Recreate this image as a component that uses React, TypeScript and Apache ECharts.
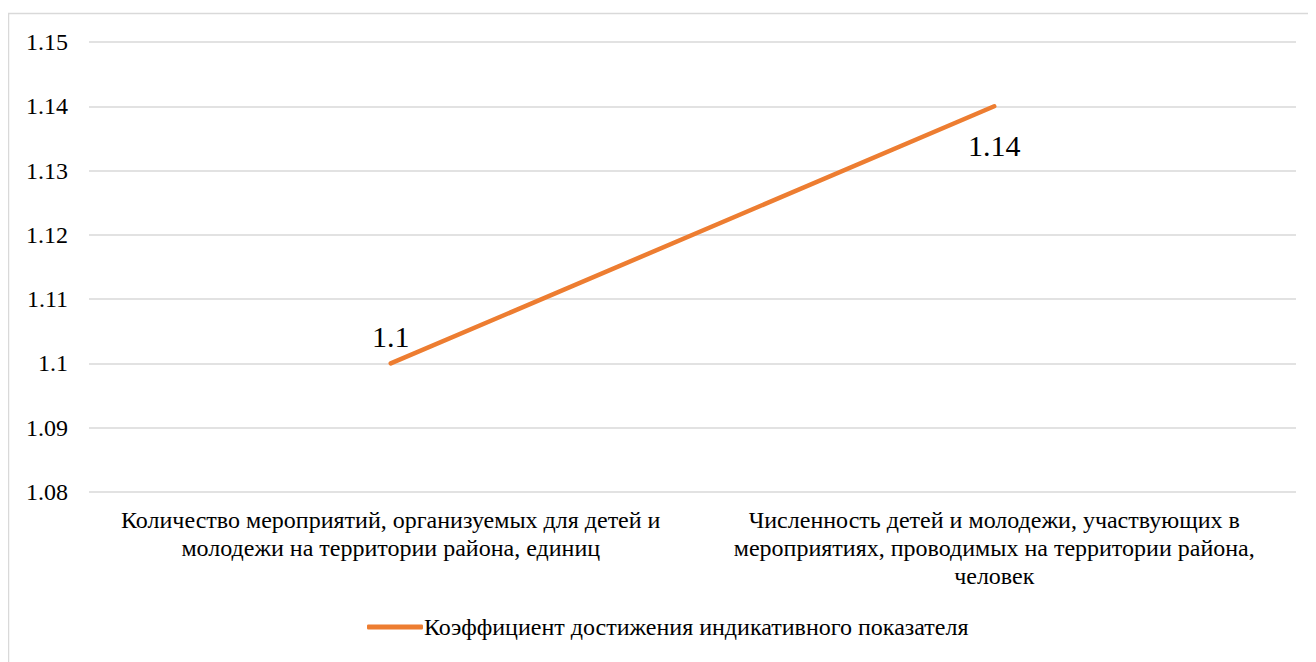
import React, { useEffect, useRef } from "react";
import * as echarts from "echarts";

const categories = [
  "Количество мероприятий, организуемых для детей и\nмолодежи на территории района, единиц",
  "Численность детей и молодежи, участвующих в\nмероприятиях, проводимых на территории района,\nчеловек",
];
const seriesName = "Коэффициент достижения индикативного показателя";
const values = [1.1, 1.14];
const labelPositions = ["top", "bottom"];
const labelDistances = [12, 24];

export default function App() {
  const ref = useRef<HTMLDivElement>(null);
  useEffect(() => {
    if (!ref.current) return;
    const chart = echarts.init(ref.current, null, { renderer: "svg" });
    const font = "Liberation Serif";
    chart.setOption({
      animation: false,
      textStyle: { fontFamily: font },
      graphic: [
        {
          type: "rect",
          shape: { x: 0.5, y: 5.5, width: 1400, height: 800 },
          style: { fill: "none", stroke: "#d9d9d9", lineWidth: 1.5 },
          silent: true,
        },
      ],
      grid: { left: 81, right: 20, top: 34, bottom: 170, containLabel: false },
      xAxis: {
        type: "category",
        data: categories,
        axisLine: { show: false },
        axisTick: { show: false },
        axisLabel: {
          color: "#000",
          fontFamily: font,
          fontSize: 24,
          lineHeight: 28,
          margin: 14,
          interval: 0,
        },
      },
      yAxis: {
        type: "value",
        min: 1.08,
        max: 1.15,
        interval: 0.01,
        axisLine: { show: false },
        axisTick: { show: false },
        splitLine: { lineStyle: { color: "#d9d9d9", width: 1.5 } },
        axisLabel: {
          color: "#000",
          fontFamily: font,
          fontSize: 24,
          margin: 21,
          formatter: (v: number) => String(parseFloat(v.toFixed(2))),
        },
      },
      legend: {
        bottom: 18,
        left: 354,
        itemWidth: 56,
        itemHeight: 5,
        itemGap: 4,
        textStyle: { color: "#000", fontFamily: font, fontSize: 24, padding: [0, 0, 0, -4] },
        data: [{ name: seriesName, icon: "roundRect" }],
      },
      series: [
        {
          name: seriesName,
          type: "line",
          data: values.map((v, i) => ({
            value: v,
            label: { position: labelPositions[i], distance: labelDistances[i] },
          })),
          symbol: "circle",
          symbolSize: 0,
          showSymbol: true,
          lineStyle: { color: "#ED7D31", width: 4.5, cap: "round" },
          itemStyle: { color: "#ED7D31" },
          label: {
            show: true,
            color: "#000",
            fontFamily: font,
            fontSize: 30,
            formatter: (p: any) => String(p.value),
          },
        },
      ],
    });
    return () => chart.dispose();
  }, []);
  return <div ref={ref} style={{ width: 1308, height: 654 }} />;
}
